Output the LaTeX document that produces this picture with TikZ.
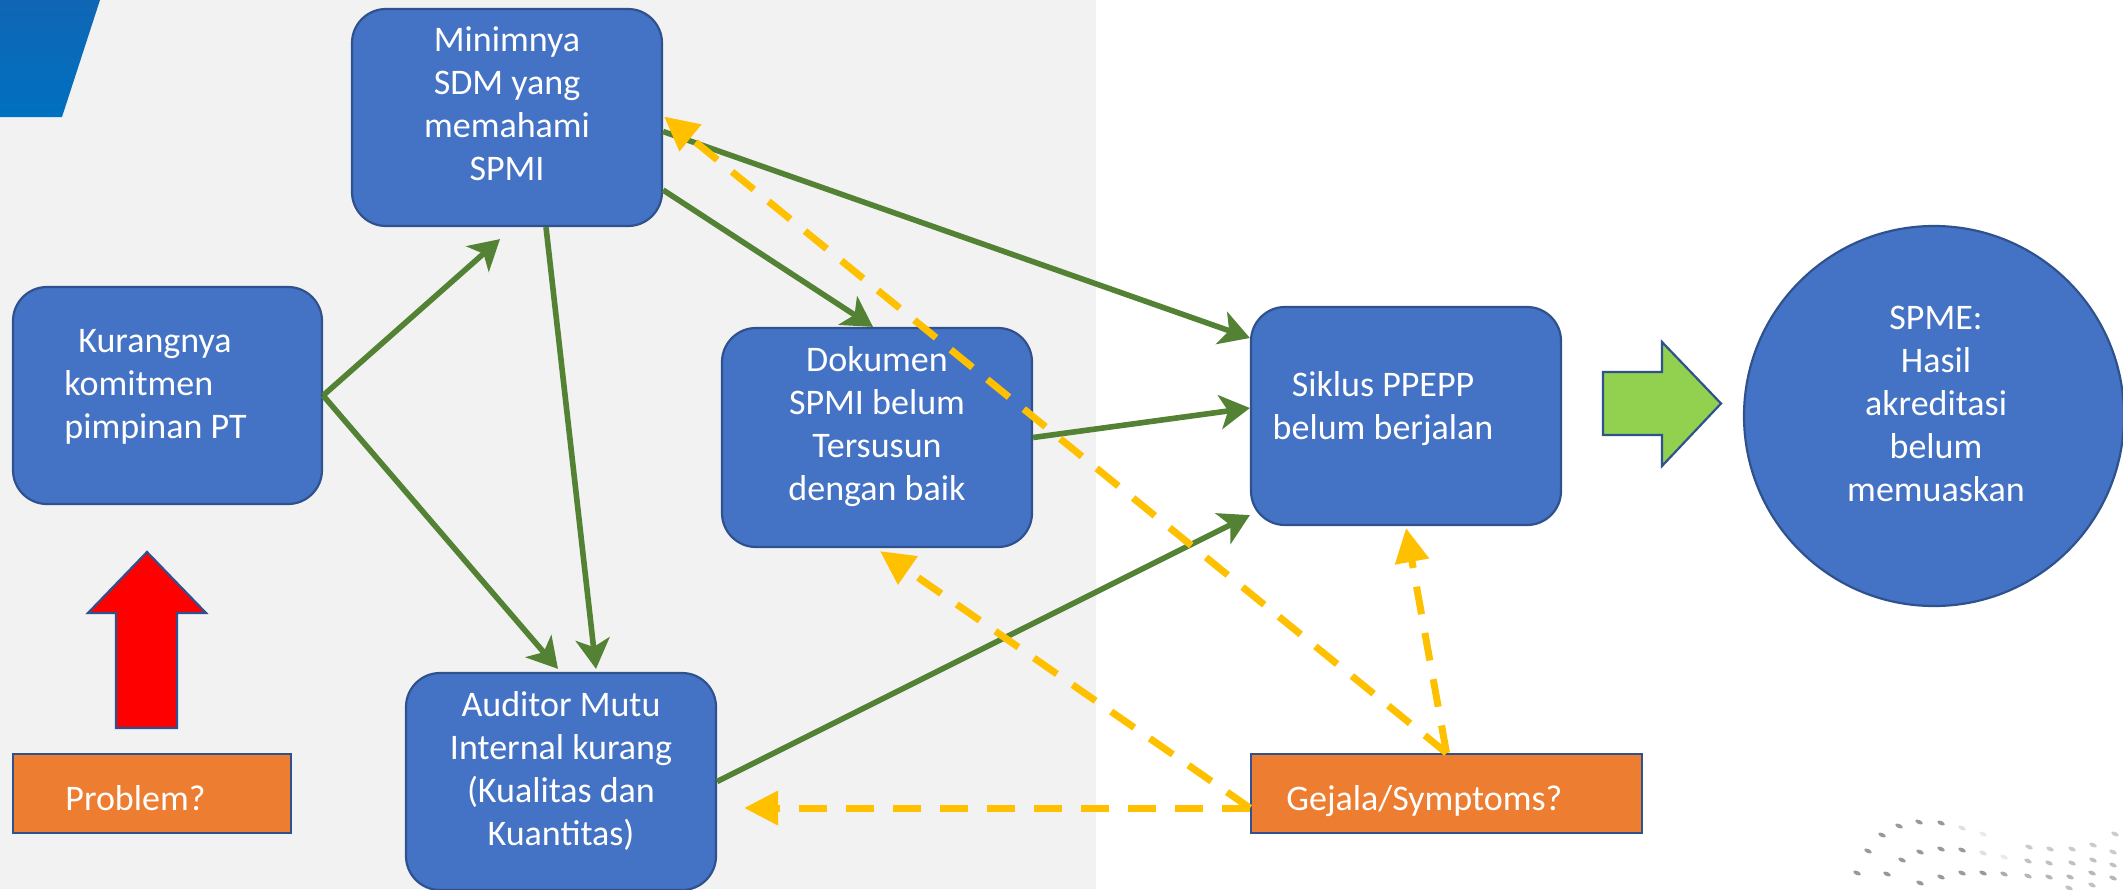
\documentclass[tikz,border=0pt]{standalone}
\usepackage{fontspec}
\setmainfont{Carlito}
\usetikzlibrary{arrows.meta,calc,shapes.geometric}
\definecolor{boxblue}{HTML}{4472C4}
\definecolor{edgeblue}{HTML}{2F528F}
\definecolor{ggreen}{HTML}{548235}
\definecolor{gold}{HTML}{FFC000}
\definecolor{orng}{HTML}{ED7D31}
\definecolor{lgreen}{HTML}{92D050}
\definecolor{bggray}{HTML}{F2F2F2}
\definecolor{cornerblue}{HTML}{0070C0}
\definecolor{cornertop}{HTML}{1066B5}
\begin{document}
\begin{tikzpicture}[x=0.5pt,y=-0.5pt,
  box/.style={draw=edgeblue, line width=1.1pt, fill=boxblue, rounded corners=17pt, inner sep=0pt},
  obox/.style={draw=edgeblue, line width=1pt, fill=orng, inner sep=0pt},
  txt/.style={text=white, font=\fontsize{18}{21.5}\selectfont, align=center, inner sep=0pt},
  gline/.style={draw=ggreen, line width=2.8pt, -{Stealth[length=15pt,width=17pt,inset=4pt]}},
  yline/.style={draw=gold, line width=3.5pt, dash pattern=on 14pt off 9.5pt, -{Triangle[length=17pt,width=16.5pt]}},
  blockarrow/.style={draw=edgeblue, line width=1.1pt},
  dotmark/.style={fill=gray!80}
]
\useasboundingbox (0,0) rectangle (2123,889);
% background
\fill[bggray] (0,0) rectangle (1096,889);
\fill[white] (1096,0) rectangle (2123,889);
% corner decoration
\shade[top color=cornertop, bottom color=cornerblue] (0,0) -- (100,0) -- (62,117) -- (0,117) -- cycle;

% boxes
\node[box, minimum width=154.5pt, minimum height=108.5pt] (kur) at (167.5,395.5) {};
\node[box, minimum width=155pt, minimum height=108.5pt] (minim) at (507,117.5) {};
\node[box, minimum width=155pt, minimum height=109.5pt] (dok) at (877,437.5) {};
\node[box, minimum width=155pt, minimum height=109pt] (sik) at (1406,416) {};
\node[box, minimum width=155pt, minimum height=108.5pt] (aud) at (561,781.5) {};
\node[circle, draw=edgeblue, line width=1.1pt, fill=boxblue, minimum size=190pt, inner sep=0pt] (spme) at (1934,416) {};
\node[obox, minimum width=139pt, minimum height=39.5pt] (prob) at (152,793.5) {};
\node[obox, minimum width=195.5pt, minimum height=39.5pt] (gej) at (1446.5,793.5) {};

% texts
\node[txt, align=left, anchor=west] (kurt) at (64,387) {\hspace*{7pt}Kurangnya\\komitmen\\pimpinan PT};
\node[txt] (minimt) at (507,104) {Minimnya\\SDM yang\\memahami\\SPMI};
\node[txt] (dokt) at (877,427) {Dokumen\\SPMI belum\\Tersusun\\dengan baik};
\node[txt] (sikt) at (1383,409) {Siklus PPEPP\\belum berjalan};
\node[txt] (audt) at (561,771) {Auditor Mutu\\Internal kurang\\(Kualitas dan\\Kuantitas)};
\node[txt] (spmet) at (1936,404) {SPME:\\Hasil\\akreditasi\\belum\\memuaskan};
\node[txt, anchor=base west] (probt) at (65,810) {Problem?};
\node[txt, anchor=base west] (gejt) at (1286,810) {Gejala/Symptoms?};

% block arrows
\draw[blockarrow, fill=lgreen] (1603,372) -- (1662,372) -- (1662,342) -- (1721,403.5) -- (1662,466) -- (1662,435) -- (1603,435) -- cycle;
\draw[blockarrow, fill=red] (116,728) -- (116,613) -- (88,613) -- (147,552) -- (206,613) -- (177,613) -- (177,728) -- cycle;

% green connectors
\draw[gline] (kur.east) -- ($(minim.south)+(-7,12)$);
\draw[gline] (kur.east) -- ($(aud.north)+(-3,-3)$);
\draw[gline] ($(minim.south)+(39,0)$) -- ($(aud.north)+(35,-3)$);
\draw[gline] ($(minim.east)+(0,72.5)$) -- ($(dok.north)+(-4,0)$);
\draw[gline] ($(minim.east)+(0,14)$) -- ($(sik.west)+(0,-78)$);
\draw[gline] (dok.east) -- ($(sik.west)+(0,-8)$);
\draw[gline] (aud.east) -- ($(sik.south west)+(0,-11)$);

% yellow dashed connectors
\draw[yline] (gej.north) -- ($(minim.east)+(1,-1)$);
\draw[yline] (gej.north) -- ($(sik.south)+(0,2)$);
\draw[yline] ($(gej.west)+(0,14.5)$) -- ($(dok.south)+(3,3)$);
\draw[yline] ($(gej.west)+(0,14.5)$) -- ($(aud.east)+(27,26.5)$);

% decorative dots
\foreach \px/\py/\op in {1882/835/1,1899/826/1,1919/822/1,1941/823/1,1962/828/0.3,1983/834/0.2,
  1868/851/1,1920/852/1,1941/849/1,1962/850/1,1983/853/0.3,2004/857/0.2,1902/860/1,
  1857/873/1,1887/874/1,1920/883/1,1941/877/1,1962/873/1,1983/873/1,2004/874/0.8,
  2028/876/0.7,2049/877/0.7,2070/877/0.7,2092/873/0.7,2113/878/0.7,
  2028/861/0.6,2049/863/0.6,2072/863/0.6,2093/860/0.6,2113/865/0.6,
  2029/847/0.5,2050/849/0.5,2072/849/0.5,2093/845/0.5,2113/852/0.5,2115/834/0.5,
  2069/888/0.6,2092/885/0.6}
  \fill[dotmark, opacity=\op, rotate around={-25:(\px,\py)}] (\px,\py) ellipse (4 and 2);
\end{tikzpicture}
\end{document}
